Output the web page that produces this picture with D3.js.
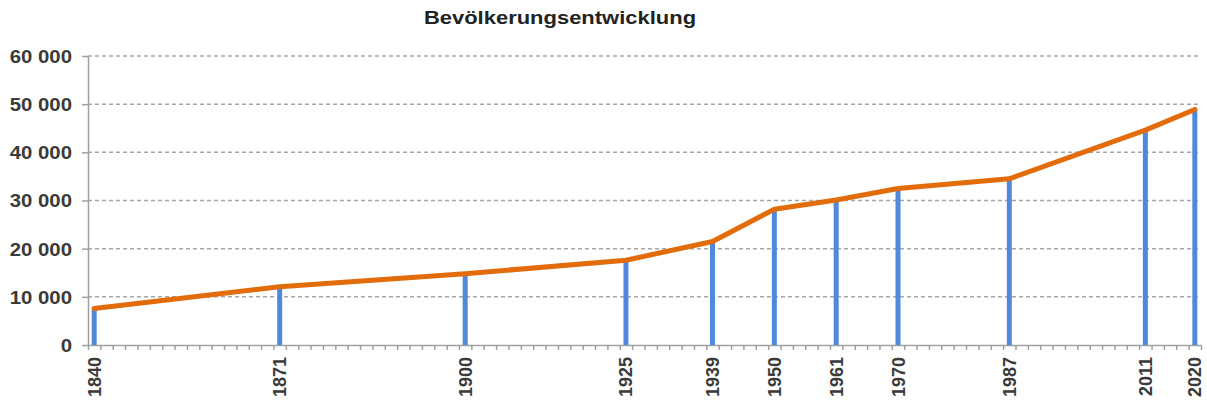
<!DOCTYPE html>
<html lang="de">
<head>
<meta charset="UTF-8">
<title>Bevölkerungsentwicklung</title>
<script src="https://cdnjs.cloudflare.com/ajax/libs/d3/7.8.5/d3.min.js"></script>
<style>
    body { margin: 0; background: #fff; }
    svg { display: block; font-family: "Liberation Sans", Arial, sans-serif; }
    .grid line { stroke: #a6a6a6; stroke-width: 1.5; stroke-dasharray: 4 3; }
    .axis path, .axis line { stroke: #a0a0a0; stroke-width: 1.5; }
    .axis text { font-size: 18px; font-weight: bold; fill: #3a3a3a; }
    .bar { stroke: #5089da; stroke-width: 5; }
    .series-line { fill: none; stroke: #e36c0a; stroke-width: 5; stroke-linejoin: round; stroke-linecap: round; }
</style>
</head>
<body>
<div class="chart"></div>
<script>
    var years = [1840, 1871, 1900, 1925, 1939, 1950, 1961, 1970, 1987, 2011, 2020];
    var population = [7600, 12100, 14800, 17600, 21500, 28200, 30100, 32500, 34500, 44600, 48900];
    // the x axis is a category axis with 90 slots; this is the slot of each census year
    var slotCount = 90;
    var categoryIndex = [0, 15, 30, 43, 50, 55, 60, 65, 74, 85, 89];
    var yTicks = [0, 10000, 20000, 30000, 40000, 50000, 60000];
    var title = "Bevölkerungsentwicklung";

    var width = 1207, height = 403;
    var stretch = 1.13; // the picture is a bit wider than normal text

    var svg = d3.select(".chart").append("svg")
        .attr("width", width)
        .attr("height", height);

    var x = d3.scaleLinear().domain([0, slotCount]).range([88, 1201]);
    var y = d3.scaleLinear().domain([0, 60000]).range([345, 56]);
    function xMid(i) { return x(categoryIndex[i] + 0.5); }

    // dashed grid
    svg.append("g")
        .attr("class", "grid")
        .selectAll("line")
        .data(yTicks.filter(function(d) { return d > 0; }))
        .enter()
        .append("line")
        .attr("x1", x(0))
        .attr("x2", x(slotCount))
        .attr("y1", function(d) { return y(d); })
        .attr("y2", function(d) { return y(d); });

    // y axis
    var fmt = function(d) { return d3.format(",")(d).replace(/,/g, " "); };
    var yAxis = svg.append("g")
        .attr("class", "axis axis--y")
        .attr("transform", "translate(" + x(0) + ",0)")
        .call(d3.axisLeft(y).tickValues(yTicks).tickFormat(fmt).tickSize(6).tickPadding(10).tickSizeOuter(0));
    yAxis.selectAll("text").attr("dy", "0.36em");

    // x axis: a tick between every category
    svg.append("g")
        .attr("class", "axis axis--x")
        .attr("transform", "translate(0," + y(0) + ")")
        .call(d3.axisBottom(x).tickValues(d3.range(0, slotCount + 1)).tickFormat("").tickSize(5).tickSizeOuter(0));

    svg.append("g")
        .attr("class", "axis")
        .selectAll("text")
        .data(years)
        .enter()
        .append("text")
        .attr("transform", function(d, i) { return "translate(" + xMid(i) + "," + (y(0) + 12) + ") rotate(-90)"; })
        .attr("text-anchor", "end")
        .attr("dy", "0.36em")
        .text(function(d) { return d; });

    // bars
    svg.append("g")
        .selectAll("line")
        .data(years)
        .enter()
        .append("line")
        .attr("class", "bar")
        .attr("x1", function(d, i) { return xMid(i); })
        .attr("x2", function(d, i) { return xMid(i); })
        .attr("y1", y(0))
        .attr("y2", function(d, i) { return y(population[i]); });

    // line
    var line = d3.line()
        .x(function(d, i) { return xMid(i); })
        .y(function(d, i) { return y(population[i]); });
    svg.append("path")
        .datum(years)
        .attr("class", "series-line")
        .attr("d", line);

    // title
    svg.append("text")
        .attr("x", 560)
        .attr("y", 24)
        .attr("text-anchor", "middle")
        .style("font-size", "18px")
        .style("font-weight", "bold")
        .style("fill", "#222")
        .text(title);

    // widen the text a little like in the picture
    svg.selectAll(".axis--y text").each(function() {
        var t = d3.select(this);
        t.attr("textLength", this.getComputedTextLength() * stretch).attr("lengthAdjust", "spacingAndGlyphs");
    });
    svg.selectAll("text").filter(function() { return d3.select(this).text() === title; }).each(function() {
        d3.select(this).attr("textLength", this.getComputedTextLength() * 1.22).attr("lengthAdjust", "spacingAndGlyphs");
    });
</script>
</body>
</html>
